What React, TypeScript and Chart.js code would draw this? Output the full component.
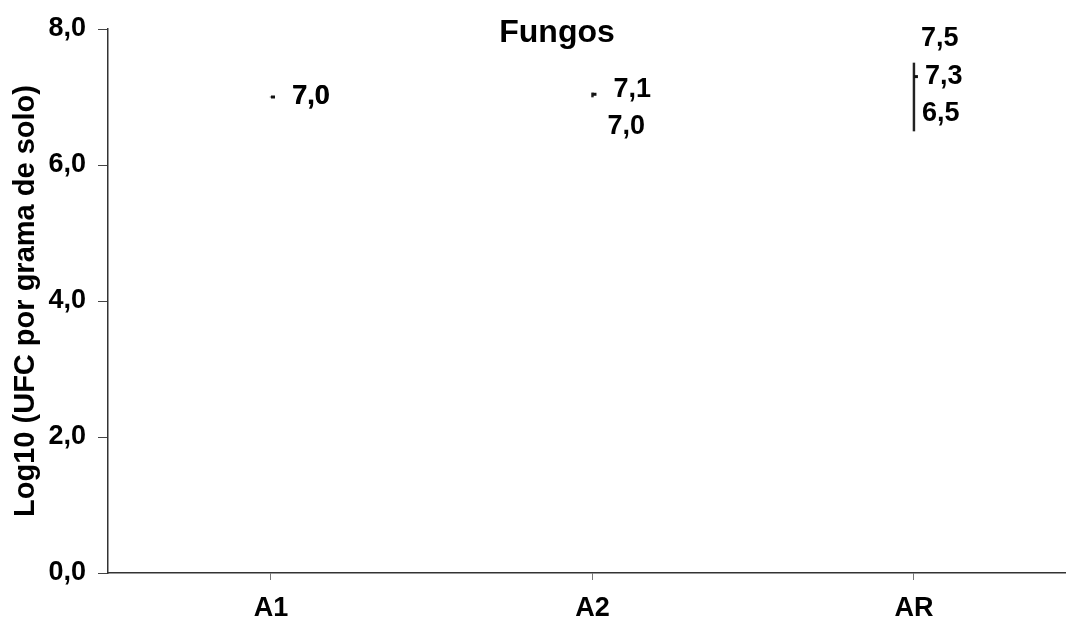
import React, { useEffect, useRef } from "react";
import { Chart, registerables } from "chart.js";

Chart.register(...registerables);

const categories = ["A1", "A2", "AR"];
const highValues = [7.0, 7.06, 7.5];
const closeValues = [7.0, 7.04, 7.3];
const lowValues = [7.0, 7.0, 6.5];
const yTickValues = [0, 2, 4, 6, 8];
const chartTitle = "Fungos";
const yAxisTitle = "Log10 (UFC por grama de solo)";

const fmt = (v: number) => v.toFixed(1).replace(".", ",");

// label placement (pixel offsets from the mark), style only
const labelPlacement: any[] = [
  { high: null, close: { dx: 21, dy: 0 }, low: null },
  { high: { dx: 21, dy: -3 }, close: null, low: { dx: 15, dy: 30 } },
  { high: { dx: 7, dy: -24 }, close: { dx: 11, dy: 0 }, low: { dx: 8, dy: -17 } },
];

const FONT = "'Liberation Sans', Arial, sans-serif";

const labelPlugin = {
  id: "hlcLabels",
  afterDatasetsDraw(chart: any) {
    const ctx = chart.ctx;
    const xs = chart.scales.x;
    const ys = chart.scales.y;
    ctx.save();
    ctx.fillStyle = "#000";
    ctx.font = `bold 27px ${FONT}`;
    ctx.textAlign = "left";
    ctx.textBaseline = "middle";
    categories.forEach((_, i) => {
      const px = xs.getPixelForValue(i);
      const p = labelPlacement[i];
      const items: [string, number][] = [
        ["high", highValues[i]],
        ["close", closeValues[i]],
        ["low", lowValues[i]],
      ];
      items.forEach(([k, v]) => {
        const o = p[k];
        if (!o) return;
        const py = ys.getPixelForValue(v);
        ctx.fillText(fmt(v), px + o.dx, py + o.dy);
        if (i === 0) ctx.fillText(fmt(v), px + o.dx + 0.5, py + o.dy);
      });
    });
    // chart title
    ctx.font = `bold 32px ${FONT}`;
    ctx.textAlign = "center";
    ctx.fillText(chartTitle, 557, 33);
    ctx.restore();
  },
};

export default function App() {
  const ref = useRef<HTMLCanvasElement>(null);
  useEffect(() => {
    if (!ref.current) return;
    const chart = new Chart(ref.current, {
      type: "bar",
      data: {
        datasets: [
          {
            type: "bar",
            data: categories.map((_, i) => ({ x: i, y: [lowValues[i], highValues[i]] })) as any,
            backgroundColor: "#222",
            borderWidth: 0,
            barThickness: 1.8,
            order: 2,
          } as any,
          {
            type: "scatter",
            data: categories.map((_, i) => ({ x: i, y: closeValues[i] })),
            pointStyle: "dash",
            pointRadius: 4,
            pointBorderWidth: 3,
            pointBorderColor: "#111",
            pointBackgroundColor: "#111",
            showLine: false,
            clip: false,
            order: 1,
          } as any,
        ],
      },
      options: {
        animation: false,
        responsive: false,
        events: [],
        layout: { autoPadding: false, padding: { top: 29, left: 0, right: 0, bottom: 0 } },
        plugins: { legend: { display: false }, tooltip: { enabled: false }, title: { display: false } },
        scales: {
          x: {
            type: "linear",
            offset: false,
            min: -0.507,
            max: 2.473,
            afterFit: (s: any) => {
              s.height = 46;
              s.paddingLeft = 0;
              s.paddingRight = 0;
            },
            afterBuildTicks: (s: any) => {
              s.ticks = categories.map((_, i) => ({ value: i }));
            },
            ticks: {
              autoSkip: false,
              maxRotation: 0,
              padding: 12,
              color: "#000",
              font: { family: FONT, size: 27, weight: "bold" },
              callback: (v: any) => categories[v] ?? "",
            },
            grid: { offset: false, drawOnChartArea: false, drawTicks: true, tickLength: 7, color: "#777" },
            border: { display: true, color: "#333", width: 1.5 },
          },
          y: {
            type: "linear",
            min: 0,
            max: 8,
            afterFit: (s: any) => {
              s.width = 108;
            },
            afterBuildTicks: (s: any) => {
              s.ticks = yTickValues.map((v) => ({ value: v }));
            },
            ticks: {
              padding: 12,
              color: "#000",
              font: { family: FONT, size: 27, weight: "bold" },
              callback: (v: any) => fmt(Number(v)),
            },
            grid: { drawOnChartArea: false, drawTicks: true, tickLength: 10, color: "#444" },
            border: { display: true, color: "#333", width: 1.5 },
            title: {
              display: true,
              text: yAxisTitle,
              color: "#000",
              font: { family: FONT, size: 29, weight: "bold" },
              padding: { top: 9, bottom: 0 },
            },
          },
        },
      },
      plugins: [labelPlugin],
    });
    return () => chart.destroy();
  }, []);
  return (
    <div style={{ position: "absolute", left: 0, top: 0, width: 1066, height: 619, background: "#fff" }}>
      <canvas ref={ref} width={1066} height={619} />
    </div>
  );
}
